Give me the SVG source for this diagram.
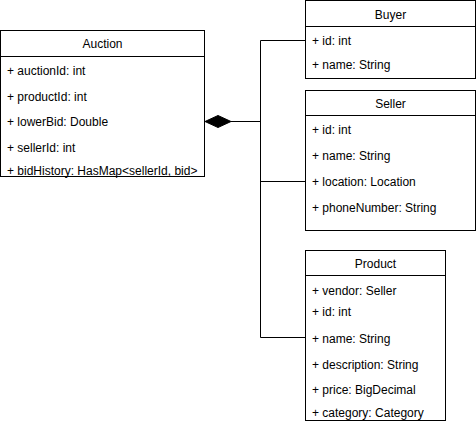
<svg xmlns="http://www.w3.org/2000/svg" width="476" height="424" viewBox="0 0 476 424">
<style>
.box{fill:#fff;stroke:#000;stroke-width:1}
.sep{stroke:#000;stroke-width:1;fill:none}
.conn{stroke:#000;stroke-width:1;fill:none}
text{font-family:"Liberation Sans",Arial,Helvetica,sans-serif;font-size:12px;fill:#000}
.hd{text-anchor:middle}
</style>
<rect x="0" y="0" width="476" height="424" fill="#fff"/>
<g id="connectors">
<polyline class="conn" points="231,121.5 260.5,121.5"/>
<polyline class="conn" points="260.5,40.5 260.5,337.5"/>
<polyline class="conn" points="260.5,40.5 305.5,40.5"/>
<polyline class="conn" points="260.5,181.5 305.5,181.5"/>
<polyline class="conn" points="260.5,337.5 305.5,337.5"/>
<polygon points="205,121.5 218,115.5 231,121.5 218,127.5" fill="#000" stroke="#000" stroke-width="1"/>
</g>
<g id="auction">
<rect class="box" x="0.5" y="30.5" width="204" height="146"/>
<line class="sep" x1="0.5" y1="56.5" x2="204.5" y2="56.5"/>
<text class="hd" x="102.5" y="48">Auction</text>
<text x="7" y="74.5">+ auctionId: int</text>
<text x="7" y="100.5">+ productId: int</text>
<text x="7" y="126">+ lowerBid: Double</text>
<text x="7" y="151.5">+ sellerId: int</text>
<text x="7" y="174.5">+ bidHistory: HasMap&lt;sellerId, bid&gt;</text>
</g>
<g id="buyer">
<rect class="box" x="305.5" y="0.5" width="170" height="78"/>
<line class="sep" x1="305.5" y1="26.5" x2="475.5" y2="26.5"/>
<text class="hd" x="390.5" y="18.5">Buyer</text>
<text x="312" y="44.5">+ id: int</text>
<text x="312" y="69">+ name: String</text>
</g>
<g id="seller">
<rect class="box" x="305.5" y="90.5" width="170" height="140"/>
<line class="sep" x1="305.5" y1="115.5" x2="475.5" y2="115.5"/>
<text class="hd" x="390.5" y="107.5">Seller</text>
<text x="312" y="133.5">+ id: int</text>
<text x="312" y="159.5">+ name: String</text>
<text x="312" y="186">+ location: Location</text>
<text x="312" y="212">+ phoneNumber: String</text>
</g>
<g id="product">
<rect class="box" x="305.5" y="250.5" width="140" height="170"/>
<line class="sep" x1="305.5" y1="275.5" x2="445.5" y2="275.5"/>
<text class="hd" x="375.5" y="268">Product</text>
<text x="312" y="294.5">+ vendor: Seller</text>
<text x="312" y="316">+ id: int</text>
<text x="312" y="342.5">+ name: String</text>
<text x="312" y="368.5">+ description: String</text>
<text x="312" y="394">+ price: BigDecimal</text>
<text x="312" y="416.5">+ category: Category</text>
</g>
</svg>
